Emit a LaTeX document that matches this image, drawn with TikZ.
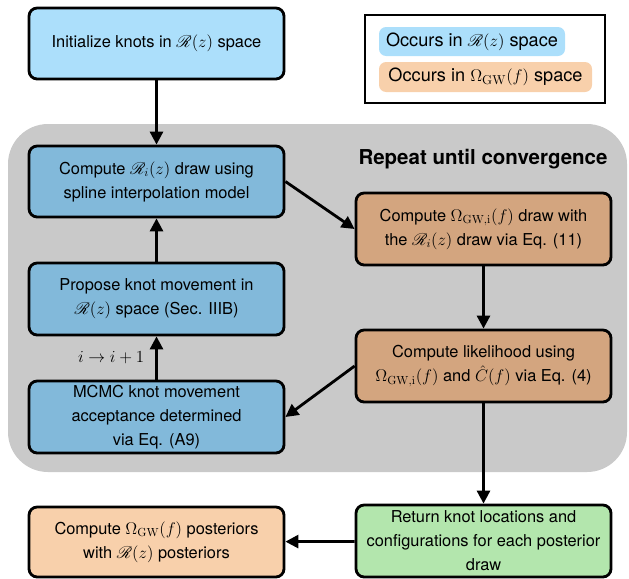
\documentclass[tikz,border=0pt]{standalone}
\usepackage{amsmath}
\usepackage{mathrsfs}
\usepackage[no-math]{fontspec}
\setmainfont{TeX Gyre Heros}
\usetikzlibrary{arrows.meta}

\definecolor{rzlight}{HTML}{ACDFFB}
\definecolor{rzblue}{HTML}{82B9DA}
\definecolor{gwtan}{HTML}{D3A57F}
\definecolor{gwlight}{HTML}{F8D0AB}
\definecolor{retgreen}{HTML}{B3E6AD}
\definecolor{loopgray}{HTML}{C9C9C9}

\begin{document}
\begin{tikzpicture}[x=0.03cm, y=-0.03cm,
    box/.style={draw, line width=2.4pt, rounded corners=7pt, align=center,
        minimum width=7.65cm, minimum height=2.16cm, inner xsep=1pt,
        font=\fontsize{14}{20.5}\selectfont},
    pill/.style={rounded corners=6pt, align=center, inner sep=0pt,
        font=\fontsize{15.5}{18}\selectfont},
    arr/.style={line width=2.4pt, -{Triangle[length=11pt,width=11pt]}}]
    \useasboundingbox (0,0) rectangle (629,578);
    % loop region
    \fill[loopgray, rounded corners=1.2cm] (8,124) rectangle (627,472);
    \node[font=\bfseries\fontsize{17.5}{20}\selectfont] (repeat) at (483,159) {Repeat until convergence};
    % legend
    \node[draw, line width=2.4pt, minimum width=7.2cm, minimum height=2.64cm] (legend) at (485,59) {};
    \node[pill, fill=rzlight, minimum width=5.58cm, minimum height=0.87cm] (legR) at (472,41.5) {Occurs in $\mathscr{R}(z)$ space};
    \node[pill, fill=gwlight, minimum width=6.39cm, minimum height=0.9cm] (legO) at (485.5,77) {Occurs in $\Omega_{\mathrm{GW}}(f)$ space};
    % R(z) steps
    \node[box, fill=rzlight, minimum height=2.13cm] (init) at (156.5,43.5) {Initialize knots in $\mathscr{R}(z)$ space};
    \node[box, fill=rzblue, minimum height=2.13cm] (draw) at (156.5,181.5) {Compute $\mathscr{R}_i(z)$ draw using\\spline interpolation model};
    \node[box, fill=rzblue] (propose) at (156.5,299) {Propose knot movement in\\$\mathscr{R}(z)$ space (Sec. IIIB)};
    \node[box, fill=rzblue] (mcmc) at (156.5,417) {MCMC knot movement\\acceptance determined\\via Eq. (A9)};
    % Omega_GW(f) steps
    \node[box, fill=gwtan] (omega) at (483.5,229) {Compute $\Omega_{\mathrm{GW,i}}(f)$ draw with\\the $\mathscr{R}_i(z)$ draw via Eq. (11)};
    \node[box, fill=gwtan] (like) at (483.5,366) {Compute likelihood using\\$\Omega_{\mathrm{GW,i}}(f)$ and $\hat{C}(f)$ via Eq. (4)};
    % output
    \node[box, fill=retgreen] (ret) at (483.5,541) {Return knot locations and\\configurations for each posterior\\draw};
    \node[box, fill=gwlight, minimum height=2.1cm] (post) at (156.5,542) {Compute $\Omega_{\mathrm{GW}}(f)$ posteriors\\with $\mathscr{R}(z)$ posteriors};

    \draw[arr] (init) -- (draw);
    \draw[arr] (draw.east) -- (omega.west);
    \draw[arr] (omega) -- (like);
    \draw[arr] (like.west) -- (mcmc.east);
    \draw[arr] (mcmc) -- node[left=6pt, font=\fontsize{15.5}{18}\selectfont] (step) {$i\to i+1$} (propose);
    \draw[arr] (propose) -- (draw);
    \draw[arr] (like) -- (ret);
    \draw[arr] (ret) -- (post);
\end{tikzpicture}
\end{document}
